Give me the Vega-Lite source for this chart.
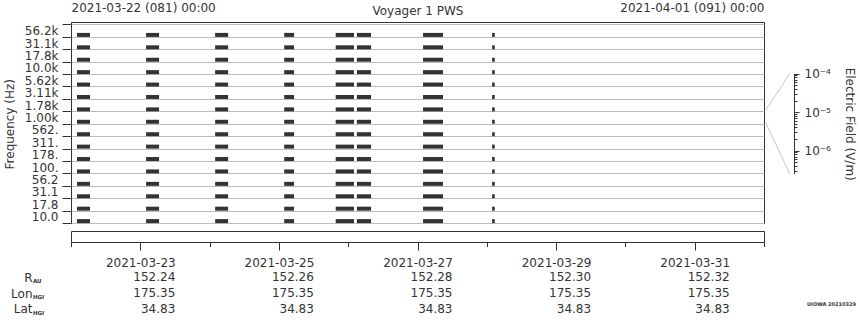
{
  "$schema": "https://vega.github.io/schema/vega-lite/v6.json",
  "background": "white",
  "padding": {"left": 2, "top": 1, "right": 0, "bottom": 0},
  "config": {
    "font": "DejaVu Sans",
    "view": {"stroke": "#333333"},
    "axis": {
      "labelFont": "DejaVu Sans", "titleFont": "DejaVu Sans",
      "labelFontSize": 12, "titleFontSize": 12, "titleFontWeight": "normal",
      "labelColor": "#333333", "titleColor": "#333333",
      "tickColor": "#333333", "domainColor": "#333333"
    }
  },
  "spacing": 6,
  "vconcat": [
    {
      "width": 693,
      "height": 201,
      "layer": [
        {
          "data": {"values": [
            {"start":"2021-03-22T02:05:00Z","end":"2021-03-22T06:35:00Z","freq":56200},
            {"start":"2021-03-22T02:05:00Z","end":"2021-03-22T06:35:00Z","freq":31100},
            {"start":"2021-03-22T02:05:00Z","end":"2021-03-22T06:35:00Z","freq":17800},
            {"start":"2021-03-22T02:05:00Z","end":"2021-03-22T06:35:00Z","freq":10000},
            {"start":"2021-03-22T02:05:00Z","end":"2021-03-22T06:35:00Z","freq":5620},
            {"start":"2021-03-22T02:05:00Z","end":"2021-03-22T06:35:00Z","freq":3110},
            {"start":"2021-03-22T02:05:00Z","end":"2021-03-22T06:35:00Z","freq":1780},
            {"start":"2021-03-22T02:05:00Z","end":"2021-03-22T06:35:00Z","freq":1000},
            {"start":"2021-03-22T02:05:00Z","end":"2021-03-22T06:35:00Z","freq":562},
            {"start":"2021-03-22T02:05:00Z","end":"2021-03-22T06:35:00Z","freq":311},
            {"start":"2021-03-22T02:05:00Z","end":"2021-03-22T06:35:00Z","freq":178},
            {"start":"2021-03-22T02:05:00Z","end":"2021-03-22T06:35:00Z","freq":100},
            {"start":"2021-03-22T02:05:00Z","end":"2021-03-22T06:35:00Z","freq":56.2},
            {"start":"2021-03-22T02:05:00Z","end":"2021-03-22T06:35:00Z","freq":31.1},
            {"start":"2021-03-22T02:05:00Z","end":"2021-03-22T06:35:00Z","freq":17.8},
            {"start":"2021-03-22T02:05:00Z","end":"2021-03-22T06:35:00Z","freq":10},
            {"start":"2021-03-23T02:00:00Z","end":"2021-03-23T06:30:00Z","freq":56200},
            {"start":"2021-03-23T02:00:00Z","end":"2021-03-23T06:30:00Z","freq":31100},
            {"start":"2021-03-23T02:00:00Z","end":"2021-03-23T06:30:00Z","freq":17800},
            {"start":"2021-03-23T02:00:00Z","end":"2021-03-23T06:30:00Z","freq":10000},
            {"start":"2021-03-23T02:00:00Z","end":"2021-03-23T06:30:00Z","freq":5620},
            {"start":"2021-03-23T02:00:00Z","end":"2021-03-23T06:30:00Z","freq":3110},
            {"start":"2021-03-23T02:00:00Z","end":"2021-03-23T06:30:00Z","freq":1780},
            {"start":"2021-03-23T02:00:00Z","end":"2021-03-23T06:30:00Z","freq":1000},
            {"start":"2021-03-23T02:00:00Z","end":"2021-03-23T06:30:00Z","freq":562},
            {"start":"2021-03-23T02:00:00Z","end":"2021-03-23T06:30:00Z","freq":311},
            {"start":"2021-03-23T02:00:00Z","end":"2021-03-23T06:30:00Z","freq":178},
            {"start":"2021-03-23T02:00:00Z","end":"2021-03-23T06:30:00Z","freq":100},
            {"start":"2021-03-23T02:00:00Z","end":"2021-03-23T06:30:00Z","freq":56.2},
            {"start":"2021-03-23T02:00:00Z","end":"2021-03-23T06:30:00Z","freq":31.1},
            {"start":"2021-03-23T02:00:00Z","end":"2021-03-23T06:30:00Z","freq":17.8},
            {"start":"2021-03-23T02:00:00Z","end":"2021-03-23T06:30:00Z","freq":10},
            {"start":"2021-03-24T01:55:00Z","end":"2021-03-24T06:25:00Z","freq":56200},
            {"start":"2021-03-24T01:55:00Z","end":"2021-03-24T06:25:00Z","freq":31100},
            {"start":"2021-03-24T01:55:00Z","end":"2021-03-24T06:25:00Z","freq":17800},
            {"start":"2021-03-24T01:55:00Z","end":"2021-03-24T06:25:00Z","freq":10000},
            {"start":"2021-03-24T01:55:00Z","end":"2021-03-24T06:25:00Z","freq":5620},
            {"start":"2021-03-24T01:55:00Z","end":"2021-03-24T06:25:00Z","freq":3110},
            {"start":"2021-03-24T01:55:00Z","end":"2021-03-24T06:25:00Z","freq":1780},
            {"start":"2021-03-24T01:55:00Z","end":"2021-03-24T06:25:00Z","freq":1000},
            {"start":"2021-03-24T01:55:00Z","end":"2021-03-24T06:25:00Z","freq":562},
            {"start":"2021-03-24T01:55:00Z","end":"2021-03-24T06:25:00Z","freq":311},
            {"start":"2021-03-24T01:55:00Z","end":"2021-03-24T06:25:00Z","freq":178},
            {"start":"2021-03-24T01:55:00Z","end":"2021-03-24T06:25:00Z","freq":100},
            {"start":"2021-03-24T01:55:00Z","end":"2021-03-24T06:25:00Z","freq":56.2},
            {"start":"2021-03-24T01:55:00Z","end":"2021-03-24T06:25:00Z","freq":31.1},
            {"start":"2021-03-24T01:55:00Z","end":"2021-03-24T06:25:00Z","freq":17.8},
            {"start":"2021-03-24T01:55:00Z","end":"2021-03-24T06:25:00Z","freq":10},
            {"start":"2021-03-25T01:50:00Z","end":"2021-03-25T05:15:00Z","freq":56200},
            {"start":"2021-03-25T01:50:00Z","end":"2021-03-25T05:15:00Z","freq":31100},
            {"start":"2021-03-25T01:50:00Z","end":"2021-03-25T05:15:00Z","freq":17800},
            {"start":"2021-03-25T01:50:00Z","end":"2021-03-25T05:15:00Z","freq":10000},
            {"start":"2021-03-25T01:50:00Z","end":"2021-03-25T05:15:00Z","freq":5620},
            {"start":"2021-03-25T01:50:00Z","end":"2021-03-25T05:15:00Z","freq":3110},
            {"start":"2021-03-25T01:50:00Z","end":"2021-03-25T05:15:00Z","freq":1780},
            {"start":"2021-03-25T01:50:00Z","end":"2021-03-25T05:15:00Z","freq":1000},
            {"start":"2021-03-25T01:50:00Z","end":"2021-03-25T05:15:00Z","freq":562},
            {"start":"2021-03-25T01:50:00Z","end":"2021-03-25T05:15:00Z","freq":311},
            {"start":"2021-03-25T01:50:00Z","end":"2021-03-25T05:15:00Z","freq":178},
            {"start":"2021-03-25T01:50:00Z","end":"2021-03-25T05:15:00Z","freq":100},
            {"start":"2021-03-25T01:50:00Z","end":"2021-03-25T05:15:00Z","freq":56.2},
            {"start":"2021-03-25T01:50:00Z","end":"2021-03-25T05:15:00Z","freq":31.1},
            {"start":"2021-03-25T01:50:00Z","end":"2021-03-25T05:15:00Z","freq":17.8},
            {"start":"2021-03-25T01:50:00Z","end":"2021-03-25T05:15:00Z","freq":10},
            {"start":"2021-03-25T19:40:00Z","end":"2021-03-26T02:00:00Z","freq":56200},
            {"start":"2021-03-25T19:40:00Z","end":"2021-03-26T02:00:00Z","freq":31100},
            {"start":"2021-03-25T19:40:00Z","end":"2021-03-26T02:00:00Z","freq":17800},
            {"start":"2021-03-25T19:40:00Z","end":"2021-03-26T02:00:00Z","freq":10000},
            {"start":"2021-03-25T19:40:00Z","end":"2021-03-26T02:00:00Z","freq":5620},
            {"start":"2021-03-25T19:40:00Z","end":"2021-03-26T02:00:00Z","freq":3110},
            {"start":"2021-03-25T19:40:00Z","end":"2021-03-26T02:00:00Z","freq":1780},
            {"start":"2021-03-25T19:40:00Z","end":"2021-03-26T02:00:00Z","freq":1000},
            {"start":"2021-03-25T19:40:00Z","end":"2021-03-26T02:00:00Z","freq":562},
            {"start":"2021-03-25T19:40:00Z","end":"2021-03-26T02:00:00Z","freq":311},
            {"start":"2021-03-25T19:40:00Z","end":"2021-03-26T02:00:00Z","freq":178},
            {"start":"2021-03-25T19:40:00Z","end":"2021-03-26T02:00:00Z","freq":100},
            {"start":"2021-03-25T19:40:00Z","end":"2021-03-26T02:00:00Z","freq":56.2},
            {"start":"2021-03-25T19:40:00Z","end":"2021-03-26T02:00:00Z","freq":31.1},
            {"start":"2021-03-25T19:40:00Z","end":"2021-03-26T02:00:00Z","freq":17.8},
            {"start":"2021-03-25T19:40:00Z","end":"2021-03-26T02:00:00Z","freq":10},
            {"start":"2021-03-26T03:00:00Z","end":"2021-03-26T07:55:00Z","freq":56200},
            {"start":"2021-03-26T03:00:00Z","end":"2021-03-26T07:55:00Z","freq":31100},
            {"start":"2021-03-26T03:00:00Z","end":"2021-03-26T07:55:00Z","freq":17800},
            {"start":"2021-03-26T03:00:00Z","end":"2021-03-26T07:55:00Z","freq":10000},
            {"start":"2021-03-26T03:00:00Z","end":"2021-03-26T07:55:00Z","freq":5620},
            {"start":"2021-03-26T03:00:00Z","end":"2021-03-26T07:55:00Z","freq":3110},
            {"start":"2021-03-26T03:00:00Z","end":"2021-03-26T07:55:00Z","freq":1780},
            {"start":"2021-03-26T03:00:00Z","end":"2021-03-26T07:55:00Z","freq":1000},
            {"start":"2021-03-26T03:00:00Z","end":"2021-03-26T07:55:00Z","freq":562},
            {"start":"2021-03-26T03:00:00Z","end":"2021-03-26T07:55:00Z","freq":311},
            {"start":"2021-03-26T03:00:00Z","end":"2021-03-26T07:55:00Z","freq":178},
            {"start":"2021-03-26T03:00:00Z","end":"2021-03-26T07:55:00Z","freq":100},
            {"start":"2021-03-26T03:00:00Z","end":"2021-03-26T07:55:00Z","freq":56.2},
            {"start":"2021-03-26T03:00:00Z","end":"2021-03-26T07:55:00Z","freq":31.1},
            {"start":"2021-03-26T03:00:00Z","end":"2021-03-26T07:55:00Z","freq":17.8},
            {"start":"2021-03-26T03:00:00Z","end":"2021-03-26T07:55:00Z","freq":10},
            {"start":"2021-03-27T01:55:00Z","end":"2021-03-27T08:50:00Z","freq":56200},
            {"start":"2021-03-27T01:55:00Z","end":"2021-03-27T08:50:00Z","freq":31100},
            {"start":"2021-03-27T01:55:00Z","end":"2021-03-27T08:50:00Z","freq":17800},
            {"start":"2021-03-27T01:55:00Z","end":"2021-03-27T08:50:00Z","freq":10000},
            {"start":"2021-03-27T01:55:00Z","end":"2021-03-27T08:50:00Z","freq":5620},
            {"start":"2021-03-27T01:55:00Z","end":"2021-03-27T08:50:00Z","freq":3110},
            {"start":"2021-03-27T01:55:00Z","end":"2021-03-27T08:50:00Z","freq":1780},
            {"start":"2021-03-27T01:55:00Z","end":"2021-03-27T08:50:00Z","freq":1000},
            {"start":"2021-03-27T01:55:00Z","end":"2021-03-27T08:50:00Z","freq":562},
            {"start":"2021-03-27T01:55:00Z","end":"2021-03-27T08:50:00Z","freq":311},
            {"start":"2021-03-27T01:55:00Z","end":"2021-03-27T08:50:00Z","freq":178},
            {"start":"2021-03-27T01:55:00Z","end":"2021-03-27T08:50:00Z","freq":100},
            {"start":"2021-03-27T01:55:00Z","end":"2021-03-27T08:50:00Z","freq":56.2},
            {"start":"2021-03-27T01:55:00Z","end":"2021-03-27T08:50:00Z","freq":31.1},
            {"start":"2021-03-27T01:55:00Z","end":"2021-03-27T08:50:00Z","freq":17.8},
            {"start":"2021-03-27T01:55:00Z","end":"2021-03-27T08:50:00Z","freq":10},
            {"start":"2021-03-28T01:50:00Z","end":"2021-03-28T02:45:00Z","freq":56200},
            {"start":"2021-03-28T01:50:00Z","end":"2021-03-28T02:45:00Z","freq":31100},
            {"start":"2021-03-28T01:50:00Z","end":"2021-03-28T02:45:00Z","freq":17800},
            {"start":"2021-03-28T01:50:00Z","end":"2021-03-28T02:45:00Z","freq":10000},
            {"start":"2021-03-28T01:50:00Z","end":"2021-03-28T02:45:00Z","freq":5620},
            {"start":"2021-03-28T01:50:00Z","end":"2021-03-28T02:45:00Z","freq":3110},
            {"start":"2021-03-28T01:50:00Z","end":"2021-03-28T02:45:00Z","freq":1780},
            {"start":"2021-03-28T01:50:00Z","end":"2021-03-28T02:45:00Z","freq":1000},
            {"start":"2021-03-28T01:50:00Z","end":"2021-03-28T02:45:00Z","freq":562},
            {"start":"2021-03-28T01:50:00Z","end":"2021-03-28T02:45:00Z","freq":311},
            {"start":"2021-03-28T01:50:00Z","end":"2021-03-28T02:45:00Z","freq":178},
            {"start":"2021-03-28T01:50:00Z","end":"2021-03-28T02:45:00Z","freq":100},
            {"start":"2021-03-28T01:50:00Z","end":"2021-03-28T02:45:00Z","freq":56.2},
            {"start":"2021-03-28T01:50:00Z","end":"2021-03-28T02:45:00Z","freq":31.1},
            {"start":"2021-03-28T01:50:00Z","end":"2021-03-28T02:45:00Z","freq":17.8},
            {"start":"2021-03-28T01:50:00Z","end":"2021-03-28T02:45:00Z","freq":10}
          ]},
          "mark": {"type": "rule", "strokeWidth": 4, "yOffset": 4.3, "color": "#333333"},
          "encoding": {
            "x": {
              "field": "start", "type": "temporal",
              "scale": {"type": "utc", "domain": [
                {"year": 2021, "month": 3, "date": 22, "utc": true},
                {"year": 2021, "month": 4, "date": 1, "utc": true}
              ]},
              "axis": {
                "orient": "top",
                "values": [
                  {"year": 2021, "month": 3, "date": 22, "utc": true},
                  {"year": 2021, "month": 4, "date": 1, "utc": true}
                ],
                "labelFlush": true,
                "labelOverlap": false,
                "labelExpr": "utcFormat(datum.value, '%Y-%m-%d (%j) %H:%M')",
                "ticks": false, "tickSize": 0, "domain": false, "grid": false,
                "labelPadding": 7.5,
                "title": "Voyager 1 PWS",
                "titleY": -7.5,
                "titleBaseline": "alphabetic"
              }
            },
            "x2": {"field": "end"},
            "y": {
              "field": "freq", "type": "ordinal", "sort": "descending",
              "scale": {"range": [2.4, 201], "paddingInner": 0, "paddingOuter": 0},
              "axis": {
                "tickBand": "extent",
                "grid": true, "gridColor": "#bbbbbb",
                "domain": false,
                "tickSize": 9, "labelPadding": 4,
                "labelOverlap": false,
                "labelExpr": "!isNumber(datum.value) ? '' : datum.value >= 1000 ? format(datum.value, '.3s') : datum.value >= 100 ? format(datum.value, '.0f') + '.' : format(datum.value, '.1f')",
                "title": "Frequency (Hz)",
                "titlePadding": 8
              }
            }
          }
        },
        {
          "data": {"values": [
            {"side": "upper", "pos": 0, "field": 1.11e-5},
            {"side": "upper", "pos": 1, "field": 1.0e-4},
            {"side": "lower", "pos": 0, "field": 5.32e-6},
            {"side": "lower", "pos": 1, "field": 2.5e-7}
          ]},
          "mark": {"type": "line", "color": "#c8c8c8", "strokeWidth": 1},
          "encoding": {
            "x": {"field": "pos", "type": "quantitative", "scale": {"domain": [0, 1], "range": [694.7, 718.7]}, "axis": null},
            "y": {
              "field": "field", "type": "quantitative",
              "scale": {"type": "log", "domain": [2.5e-7, 1e-4], "range": [151.7, 51.7], "nice": false},
              "axis": {
                "orient": "right",
                "offset": 30,
                "values": [3e-7, 4e-7, 5e-7, 6e-7, 7e-7, 8e-7, 9e-7, 1e-6, 2e-6, 3e-6, 4e-6, 5e-6, 6e-6, 7e-6, 8e-6, 9e-6, 1e-5, 2e-5, 3e-5, 4e-5, 5e-5, 6e-5, 7e-5, 8e-5, 9e-5, 1e-4],
                "labelExpr": "abs(log(datum.value)/LN10 - round(log(datum.value)/LN10)) < 0.001 ? '10⁻' + ['', '¹', '²', '³', '⁴', '⁵', '⁶', '⁷'][-round(log(datum.value)/LN10)] : ''",
                "tickSize": {"condition": {"test": "abs(log(datum.value)/LN10 - round(log(datum.value)/LN10)) < 0.001", "value": 5}, "value": 3},
                "labelPadding": 5,
                "labelOverlap": false,
                "labelBaseline": "middle",
                "grid": false,
                "title": "Electric Field (V/m)",
                "titlePadding": 12
              }
            },
            "detail": {"field": "side"}
          }
        }
      ],
      "resolve": {"scale": {"x": "independent", "y": "independent"}, "axis": {"x": "independent", "y": "independent"}}
    },
    {
      "width": 693,
      "height": 11,
      "layer": [
        {
          "data": {"values": []},
          "mark": "rule",
          "encoding": {
            "x": {
              "field": "t", "type": "temporal",
              "scale": {"type": "utc", "domain": [
                {"year": 2021, "month": 3, "date": 22, "utc": true},
                {"year": 2021, "month": 4, "date": 1, "utc": true}
              ]},
              "axis": {
                "orient": "bottom",
                "values": [
                  {"year": 2021, "month": 3, "date": 22, "utc": true},
                  {"year": 2021, "month": 3, "date": 23, "utc": true},
                  {"year": 2021, "month": 3, "date": 24, "utc": true},
                  {"year": 2021, "month": 3, "date": 25, "utc": true},
                  {"year": 2021, "month": 3, "date": 26, "utc": true},
                  {"year": 2021, "month": 3, "date": 27, "utc": true},
                  {"year": 2021, "month": 3, "date": 28, "utc": true},
                  {"year": 2021, "month": 3, "date": 29, "utc": true},
                  {"year": 2021, "month": 3, "date": 30, "utc": true},
                  {"year": 2021, "month": 3, "date": 31, "utc": true},
                  {"year": 2021, "month": 4, "date": 1, "utc": true}
                ],
                "labelExpr": "utcdate(datum.value) % 2 == 1 && utcmonth(datum.value) == 2 ? utcFormat(datum.value, '%Y-%m-%d') : ''",
                "tickSize": {"condition": {"test": "utcdate(datum.value) % 2 == 1 && utcmonth(datum.value) == 2", "value": 8}, "value": 4.5},
                "labelPadding": 7,
                "labelFlush": false,
                "labelOverlap": false,
                "grid": false,
                "title": null
              }
            }
          }
        },
        {
          "data": {"values": [
            {"date": "2021-03-23T00:00:00Z", "row": "R", "value": "152.24"},
            {"date": "2021-03-25T00:00:00Z", "row": "R", "value": "152.26"},
            {"date": "2021-03-27T00:00:00Z", "row": "R", "value": "152.28"},
            {"date": "2021-03-29T00:00:00Z", "row": "R", "value": "152.30"},
            {"date": "2021-03-31T00:00:00Z", "row": "R", "value": "152.32"},
            {"date": "2021-03-23T00:00:00Z", "row": "Lon", "value": "175.35"},
            {"date": "2021-03-25T00:00:00Z", "row": "Lon", "value": "175.35"},
            {"date": "2021-03-27T00:00:00Z", "row": "Lon", "value": "175.35"},
            {"date": "2021-03-29T00:00:00Z", "row": "Lon", "value": "175.35"},
            {"date": "2021-03-31T00:00:00Z", "row": "Lon", "value": "175.35"},
            {"date": "2021-03-23T00:00:00Z", "row": "Lat", "value": "34.83"},
            {"date": "2021-03-25T00:00:00Z", "row": "Lat", "value": "34.83"},
            {"date": "2021-03-27T00:00:00Z", "row": "Lat", "value": "34.83"},
            {"date": "2021-03-29T00:00:00Z", "row": "Lat", "value": "34.83"},
            {"date": "2021-03-31T00:00:00Z", "row": "Lat", "value": "34.83"}
          ]},
          "mark": {"type": "text", "align": "right", "dx": 35, "baseline": "middle", "fontSize": 12, "color": "#333333"},
          "encoding": {
            "x": {"field": "date", "type": "temporal"},
            "y": {
              "field": "row", "type": "nominal", "sort": ["R", "Lon", "Lat"],
              "scale": {"range": [38.5, 85.5], "paddingInner": 0, "paddingOuter": 0},
              "axis": {"orient": "left", "domain": false, "ticks": false, "labelPadding": 39, "title": null, "labelFontSize": 12}
            },
            "text": {"field": "value"}
          }
        },
        {
          "data": {"values": [
            {"row": "R", "sub": "AU"},
            {"row": "Lon", "sub": "HGI"},
            {"row": "Lat", "sub": "HGI"}
          ]},
          "mark": {"type": "text", "align": "left", "dx": -38, "dy": 4, "baseline": "middle", "fontSize": 5.5, "fontWeight": "bold", "color": "#333333"},
          "encoding": {
            "x": {"datum": {"year": 2021, "month": 3, "date": 22, "utc": true}, "type": "temporal"},
            "y": {"field": "row", "type": "nominal", "sort": ["R", "Lon", "Lat"]},
            "text": {"field": "sub"}
          }
        },
        {
          "data": {"values": [{"row": "Lat", "note": "UIOWA 20210329"}]},
          "mark": {"type": "text", "align": "left", "dx": 43, "dy": -5, "baseline": "middle", "fontSize": 5, "fontWeight": "bold", "color": "#333333"},
          "encoding": {
            "x": {"datum": {"year": 2021, "month": 4, "date": 1, "utc": true}, "type": "temporal"},
            "y": {"field": "row", "type": "nominal", "sort": ["R", "Lon", "Lat"]},
            "text": {"field": "note"}
          }
        }
      ]
    }
  ]
}
